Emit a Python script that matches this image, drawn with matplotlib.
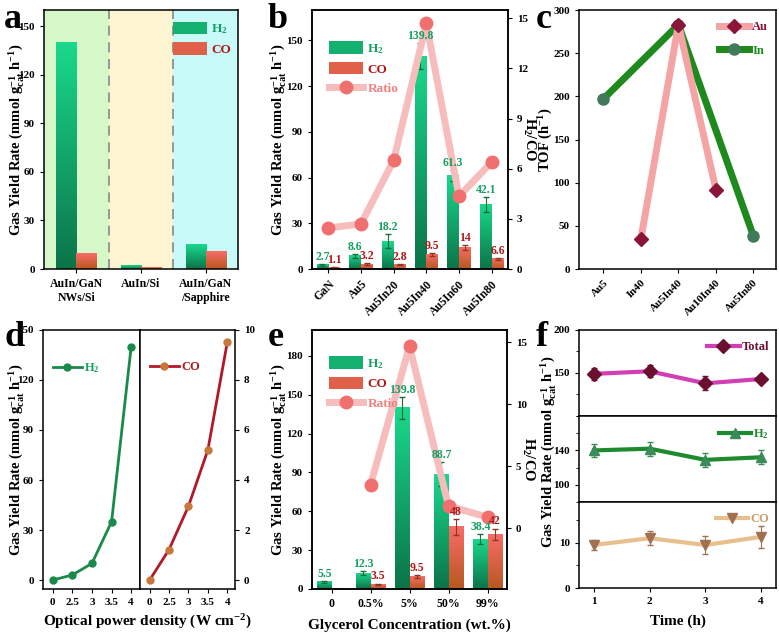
import numpy as np
import matplotlib
matplotlib.use("Agg")
import matplotlib.pyplot as plt
from matplotlib.colors import LinearSegmentedColormap
from matplotlib.patches import Patch
from matplotlib.lines import Line2D
from matplotlib.ticker import AutoMinorLocator

# ---- data ----
a_cats = ["AuIn/GaN\nNWs/Si", "AuIn/Si", "AuIn/GaN\n/Sapphire"]
a_h2 = [140, 2.2, 15.2]
a_co = [9.5, 1.1, 11.0]

b_cats = ["GaN", "Au5", "Au5In20", "Au5In40", "Au5In60", "Au5In80"]
b_h2 = [2.7, 8.6, 18.2, 139.8, 61.3, 42.1]
b_h2_err = [0.6, 1.3, 4.5, 8.5, 3.5, 5.0]
b_co = [1.1, 3.2, 2.8, 9.5, 14, 6.6]
b_co_err = [0.2, 0.6, 0.5, 0.8, 1.8, 0.5]
b_ratio = [2.45, 2.7, 6.5, 14.7, 4.35, 6.4]

c_cats = ["Au5", "In40", "Au5In40", "Au10In40", "Au5In80"]
c_au_x = [1, 2, 3]
c_au = [35, 283, 92]
c_in_x = [0, 2, 4]
c_in = [197, 283, 38]

d_power = ["0", "2.5", "3", "3.5", "4"]
d_h2 = [0, 3, 10, 35, 140]
d_co = [0, 1.22, 2.95, 5.2, 9.5]

e_cats = ["0", "0.5%", "5%", "50%", "99%"]
e_h2 = [5.5, 12.3, 139.8, 88.7, 38.4]
e_h2_err = [0.5, 1.5, 8.5, 9.0, 4.0]
e_co = [0.4, 3.5, 9.5, 48, 42]
e_co_err = [0, 0.7, 1.0, 6.0, 4.5]
e_ratio_x = [1, 2, 3, 4]
e_ratio = [3.5, 14.7, 1.8, 0.9]

f_time = [1, 2, 3, 4]
f_total = [149, 152, 138, 143]
f_total_err = [7, 7, 8, 4]
f_h2 = [140, 142, 129, 132]
f_h2_err = [8, 8, 8, 8]
f_co = [9.5, 11, 9.5, 11.3]
f_co_err = [1.0, 1.5, 2.0, 2.5]

# ---- style ----
plt.rcParams["font.family"] = ["Liberation Serif", "DejaVu Serif"]
plt.rcParams["font.weight"] = "bold"
plt.rcParams["axes.labelweight"] = "bold"
plt.rcParams["mathtext.fontset"] = "custom"
plt.rcParams["mathtext.rm"] = "Liberation Serif:bold"
plt.rcParams["mathtext.it"] = "Liberation Serif:italic:bold"
plt.rcParams["mathtext.bf"] = "Liberation Serif:bold"
plt.rcParams["axes.linewidth"] = 1.1
plt.rcParams["xtick.labelsize"] = 8
plt.rcParams["ytick.labelsize"] = 8
plt.rcParams["xtick.major.size"] = 3
plt.rcParams["ytick.major.size"] = 3

GREEN_T = "#15a060"
RED_T = "#b01818"
h2_cmap = LinearSegmentedColormap.from_list("h2", ["#0b7449", "#1ad88c"])
co_cmap = LinearSegmentedColormap.from_list("co", ["#b8581f", "#f86c68"])
YLAB = r"Gas Yield Rate (mmol g$_{\mathrm{cat}}^{-1}$ h$^{-1}$)"
YLAB_SIZE = 10.5

W, H = 779, 632
fig = plt.figure(figsize=(W / 100, H / 100), dpi=100)


def box(l, t, r, b):
    return fig.add_axes([l / W, 1 - b / H, (r - l) / W, (b - t) / H])


def place_ylabel(ax, x_px):
    # x_px: anchor of the rotated label in figure pixels
    bb = ax.get_position()
    ax.yaxis.set_label_coords((x_px - bb.x0 * W) / (bb.width * W), 0.5)


def grad_bars(ax, x, h, w, cmap):
    grad = np.linspace(0, 1, 64).reshape(-1, 1)
    bars = ax.bar(x, h, w, color="none", edgecolor="none", zorder=2)
    for b in bars:
        ax.imshow(grad, extent=[b.get_x(), b.get_x() + b.get_width(), 0, b.get_height()],
                  aspect="auto", cmap=cmap, origin="lower", zorder=2)
    return bars


def value_labels(ax_top, ax_data, xs, vals, errs, color):
    # drawn on the top (twin) axes so they sit over the ratio line
    for xi, v, e in zip(xs, vals, errs):
        ax_top.annotate(f"{v:g}", (xi, v + e), xycoords=ax_data.transData, xytext=(0, 1),
                        textcoords="offset points", ha="center", va="bottom", color=color,
                        fontsize=8.5, fontweight="bold", zorder=5)


def letter(x, y, s):
    fig.text(x / W, 1 - y / H, s, fontsize=26, fontweight="bold", ha="left", va="baseline")


def bar_legend(ax, with_ratio, anchor, loc="upper left"):
    handles = [Patch(facecolor="#13b070"), Patch(facecolor="#e0604a")]
    labels = ["H$_2$", "CO"]
    if with_ratio:
        handles.append(Line2D([], [], color="#f7bcbc", lw=5, marker="o", ms=9,
                              mfc="#f07070", mec="#f07070"))
        labels.append("Ratio")
    leg = ax.legend(handles, labels, loc=loc, bbox_to_anchor=anchor, frameon=False,
                    fontsize=9.5, handlelength=2.6, handleheight=1.1, labelspacing=0.45,
                    handletextpad=0.3, borderaxespad=0)
    for t, c in zip(leg.get_texts(), [GREEN_T, RED_T, "#f08080"]):
        t.set_color(c)
    return leg


# ---- panel a ----
ax = box(44, 10, 238, 269)
x = np.arange(3)
for i, c in enumerate(["#d6f7c8", "#fdf4d2", "#c8fafa"]):
    ax.axvspan(i - 0.5, i + 0.5, color=c, zorder=0)
for xv in [0.5, 1.5]:
    ax.axvline(xv, color="#888888", ls=(0, (6, 4)), lw=1.2, zorder=1)
grad_bars(ax, x - 0.155, a_h2, 0.31, h2_cmap)
grad_bars(ax, x + 0.155, a_co, 0.31, co_cmap)
ax.set_xlim(-0.5, 2.5)
ax.set_ylim(0, 160)
ax.set_yticks(range(0, 151, 30))
ax.set_xticks(x)
ax.set_xticklabels(a_cats, fontsize=8.5)
ax.set_ylabel(YLAB, fontsize=YLAB_SIZE)
place_ylabel(ax, 26)
bar_legend(ax, False, (0.99, 0.975), loc="upper right")
letter(4, 28, "a")

# ---- panel b ----
ax = box(312, 10, 508, 269)
x = np.arange(len(b_cats))
w = 0.36
grad_bars(ax, x - w / 2, b_h2, w, h2_cmap)
grad_bars(ax, x + w / 2, b_co, w, co_cmap)
ax.errorbar(x - w / 2, b_h2, yerr=b_h2_err, fmt="none", ecolor="#1d6b3c", elinewidth=0.8,
            capsize=2, zorder=3)
ax.errorbar(x + w / 2, b_co, yerr=b_co_err, fmt="none", ecolor="#8a3a20", elinewidth=0.8,
            capsize=2, zorder=3)
ax.set_xlim(-0.5, 5.5)
ax.set_ylim(0, 170)
ax.set_yticks(range(0, 151, 30))
ax.set_xticks(x)
ax.set_xticklabels(b_cats, rotation=45, ha="right", rotation_mode="anchor", fontsize=8.5)
ax.set_ylabel(YLAB, fontsize=YLAB_SIZE)
place_ylabel(ax, 288)
ax2 = ax.twinx()
ax2.plot(x, b_ratio, color="#f7bcbc", lw=5, marker="o", ms=9, mfc="#f07070", mec="#f07070",
         zorder=2)
ax2.set_ylim(0, 15.5)
ax2.set_yticks(range(0, 16, 3))
ax2.set_ylabel("H$_2$/CO", fontsize=YLAB_SIZE, rotation=270)
place_ylabel(ax2, 537)
value_labels(ax2, ax, x - w / 2, b_h2, b_h2_err, GREEN_T)
value_labels(ax2, ax, x + w / 2, b_co, b_co_err, RED_T)
bar_legend(ax2, True, (0.06, 0.9))
letter(268, 28, "b")

# ---- panel c ----
ax = box(579, 10, 776, 269)
ax.plot(c_in_x, c_in, color="#1e8a1e", lw=5, marker="o", ms=8, mfc="#3f7a5a", mec="#3f7a5a",
        label="In", zorder=2)
ax.plot(c_au_x, c_au, color="#f4a4a4", lw=5, marker="D", ms=7, mfc="#8b1538", mec="#8b1538",
        label="Au", zorder=3)
ax.set_xlim(-0.65, 4.6)
ax.set_ylim(0, 300)
ax.set_yticks(range(0, 301, 50))
ax.set_xticks(range(len(c_cats)))
ax.set_xticklabels(c_cats, rotation=45, ha="right", rotation_mode="anchor", fontsize=8)
ax.set_ylabel("TOF (h$^{-1}$)", fontsize=YLAB_SIZE)
place_ylabel(ax, 555)
h, l = ax.get_legend_handles_labels()
leg = ax.legend(h[::-1], l[::-1], loc="upper right", bbox_to_anchor=(0.985, 0.975),
                frameon=False, fontsize=9, handlelength=2.4, labelspacing=0.9,
                handletextpad=0.25, borderaxespad=0)
for t, c in zip(leg.get_texts(), ["#8b1538", "#1e8a1e"]):
    t.set_color(c)
letter(536, 28, "c")

# ---- panel d ----
d1 = box(43, 330, 140, 589)
d2 = box(140, 330, 235, 589)
xd = np.arange(len(d_power))
d1.plot(xd, d_h2, color="#1a8a4a", lw=2, marker="o", ms=5, label="H$_2$")
d2.plot(xd, d_co, color="#b3182a", lw=2, marker="o", ms=5, mfc="#c8783a", mec="#c8783a",
        label="CO")
d1.set_xlim(-0.5, 4.45)
d2.set_xlim(-0.5, 4.4)
d1.set_ylim(-5.4, 150)
d2.set_ylim(-0.36, 10)
d1.set_yticks(range(0, 151, 30))
d2.set_yticks(range(0, 11, 2))
d2.yaxis.tick_right()
for a_ in (d1, d2):
    a_.set_xticks(xd)
    a_.set_xticklabels(d_power, fontsize=8)
d1.set_ylabel(YLAB, fontsize=YLAB_SIZE)
place_ylabel(d1, 26)
fig.text(147 / W, 1 - 622 / H, "Optical power density (W cm$^{-2}$)", ha="center",
         va="center", fontsize=11, fontweight="bold")
leg = d1.legend(loc="upper left", bbox_to_anchor=(0.05, 0.9), frameon=False, fontsize=9,
                handlelength=2.3, handletextpad=0.2, borderaxespad=0)
leg.get_texts()[0].set_color(GREEN_T)
leg = d2.legend(loc="upper left", bbox_to_anchor=(0.05, 0.9), frameon=False, fontsize=9,
                handlelength=2.3, handletextpad=0.2, borderaxespad=0)
leg.get_texts()[0].set_color(RED_T)
letter(4, 346, "d")

# ---- panel e ----
ax = box(312, 330, 507, 589)
x = np.arange(len(e_cats))
grad_bars(ax, x - w / 2, e_h2, w, h2_cmap)
grad_bars(ax, x + w / 2, e_co, w, co_cmap)
ax.errorbar(x - w / 2, e_h2, yerr=e_h2_err, fmt="none", ecolor="#1d6b3c", elinewidth=0.8,
            capsize=2, zorder=3)
ax.errorbar(x[1:] + w / 2, e_co[1:], yerr=e_co_err[1:], fmt="none", ecolor="#8a3a20",
            elinewidth=0.8, capsize=2, zorder=3)
ax.set_xlim(-0.5, 4.5)
ax.set_ylim(0, 200)
ax.set_yticks(range(0, 181, 30))
ax.set_xticks(x)
ax.set_xticklabels(e_cats, fontsize=8.5)
ax.set_xlabel("Glycerol Concentration (wt.%)", fontsize=11, labelpad=6)
ax.set_ylabel(YLAB, fontsize=YLAB_SIZE)
place_ylabel(ax, 288)
ax2 = ax.twinx()
ax2.plot(e_ratio_x, e_ratio, color="#f7bcbc", lw=5, marker="o", ms=9, mfc="#f07070",
         mec="#f07070", zorder=2)
ax2.set_ylim(-4.9, 16)
ax2.set_yticks(range(0, 16, 5))
ax2.set_ylabel("H$_2$/CO", fontsize=YLAB_SIZE, rotation=270)
place_ylabel(ax2, 536)
value_labels(ax2, ax, x - w / 2, e_h2, e_h2_err, GREEN_T)
value_labels(ax2, ax, x[1:] + w / 2, e_co[1:], e_co_err[1:], RED_T)
bar_legend(ax2, True, (0.06, 0.92))
letter(268, 346, "e")

# ---- panel f ----
f1 = box(579, 330, 776, 416)
f2 = box(579, 416, 776, 502)
f3 = box(579, 502, 776, 588)
specs = [
    (f1, f_total, f_total_err, "#d23fb4", "D", "#6b0f30", "Total", "#6b0f30", (100, 200), [150, 200]),
    (f2, f_h2, f_h2_err, "#1e8a2e", "^", "#3a8a5a", "H$_2$", "#1e8a2e", (80, 180), [100, 140]),
    (f3, f_co, f_co_err, "#e8c08e", "v", "#a07050", "CO", "#c8a070", (0, 19), [0, 10]),
]
for a_, ys, es, lc, mk, mc, lab, tc, yl, yt in specs:
    a_.plot(f_time, ys, color=lc, lw=3, zorder=2, label=lab, marker=mk, ms=7, mfc=mc, mec=mc)
    a_.errorbar(f_time, ys, yerr=es, fmt="none", ecolor=mc, elinewidth=0.8, capsize=2.5, zorder=3)
    a_.set_xlim(0.73, 4.27)
    a_.set_ylim(*yl)
    a_.set_yticks(yt)
    a_.yaxis.set_minor_locator(AutoMinorLocator(2))
    a_.tick_params(axis="y", which="minor", length=2)
    a_.set_xticks(f_time)
    leg = a_.legend(loc="upper right", bbox_to_anchor=(0.99, 0.93), frameon=False, fontsize=9,
                    handlelength=2.6, handletextpad=0.15, borderaxespad=0)
    leg.get_texts()[0].set_color(tc)
f1.tick_params(axis="x", labelbottom=False, length=0)
f2.tick_params(axis="x", labelbottom=False, length=0)
f3.set_xlabel("Time (h)", fontsize=11, labelpad=6)
fig.text(549 / W, 1 - 452 / H, YLAB, rotation=90, ha="center", va="center",
         fontsize=YLAB_SIZE, fontweight="bold")
letter(536, 346, "f")

fig.savefig("out.png", dpi=100)
